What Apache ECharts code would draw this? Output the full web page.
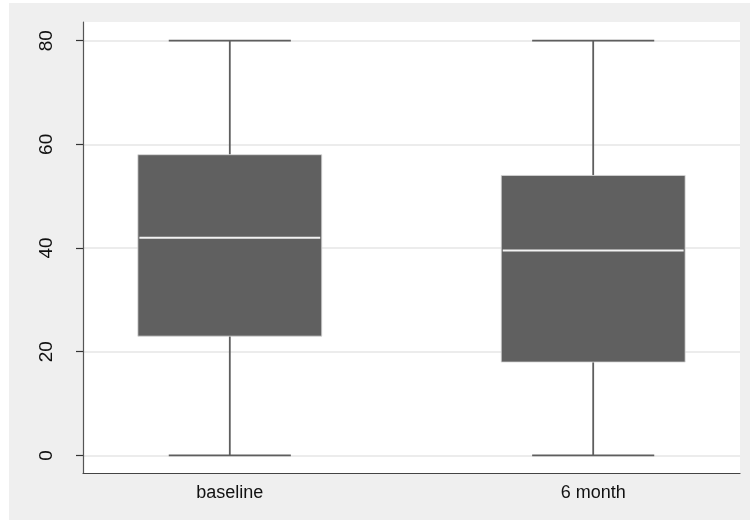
<!DOCTYPE html>
<html>
<head>
<meta charset="utf-8">
<script src="https://cdn.jsdelivr.net/npm/echarts@6/dist/echarts.min.js"></script>
<style>
  html, body { margin: 0; padding: 0; background: #ffffff; }
  #chart { width: 750px; height: 520px; }
</style>
</head>
<body>
<div id="chart"></div>
<script>
// Groups and their five-number summaries
const categories = ['baseline', '6 month'];
const whiskerLow = [0, 0];
const quartile1 = [23, 18];
const medians = [42, 39.5];
const quartile3 = [58, 54];
const whiskerHigh = [80, 80];
const yTicks = [0, 20, 40, 60, 80];

const boxData = categories.map((c, i) => [i, whiskerLow[i], quartile1[i], medians[i], quartile3[i], whiskerHigh[i]]);

const BOX_HALF = 0.253;   // half box width, in category units
const CAP_HALF = 0.168;   // half whisker-cap width

const chart = echarts.init(document.getElementById('chart'));
chart.setOption({
  animation: false,
  backgroundColor: '#ffffff',
  graphic: [{
    type: 'rect', z: -10, silent: true,
    shape: { x: 9, y: 3, width: 741, height: 517 },
    style: { fill: '#efefef' }
  }],
  grid: {
    left: 83, top: 22, right: 10, bottom: 47,
    show: true, backgroundColor: '#ffffff', borderWidth: 0
  },
  xAxis: {
    type: 'value', min: -0.404, max: 1.404,
    splitLine: { show: false },
    axisLine: { show: true, onZero: false, lineStyle: { color: '#444', width: 1.2 } },
    axisTick: { show: false },
    axisLabel: {
      customValues: [0, 1],
      formatter: v => categories[Math.round(v)] || '',
      fontFamily: 'Liberation Sans, Arial, sans-serif',
      fontSize: 18, color: '#111', margin: 11
    }
  },
  yAxis: {
    type: 'value', min: -3.4, max: 83.6,
    axisLine: { show: true, onZero: false, lineStyle: { color: '#555', width: 1.2 } },
    axisTick: { show: true, customValues: yTicks, length: 7, lineStyle: { color: '#333', width: 1.2 } },
    splitLine: { show: true, lineStyle: { color: '#e6e6e6', width: 1.5 } },
    axisLabel: {
      customValues: yTicks,
      rotate: 90,
      fontFamily: 'Liberation Sans, Arial, sans-serif',
      fontSize: 19, color: '#111', margin: 27
    }
  },
  series: [{
    type: 'custom',
    data: boxData,
    encode: { x: 0, y: [1, 2, 3, 4, 5] },
    renderItem: function (params, api) {
      const x = api.value(0);
      const pLow = api.coord([x, api.value(1)]);
      const pQ1 = api.coord([x, api.value(2)]);
      const pMed = api.coord([x, api.value(3)]);
      const pQ3 = api.coord([x, api.value(4)]);
      const pHigh = api.coord([x, api.value(5)]);
      const left = api.coord([x - BOX_HALF, 0])[0];
      const right = api.coord([x + BOX_HALF, 0])[0];
      const capL = api.coord([x - CAP_HALF, 0])[0];
      const capR = api.coord([x + CAP_HALF, 0])[0];
      const whisk = { stroke: '#5e5e5e', lineWidth: 1.8 };
      return {
        type: 'group',
        children: [
          { type: 'line', shape: { x1: pLow[0], y1: pLow[1], x2: pQ1[0], y2: pQ1[1] }, style: whisk },
          { type: 'line', shape: { x1: pQ3[0], y1: pQ3[1], x2: pHigh[0], y2: pHigh[1] }, style: whisk },
          { type: 'line', shape: { x1: capL, y1: pLow[1], x2: capR, y2: pLow[1] }, style: whisk },
          { type: 'line', shape: { x1: capL, y1: pHigh[1], x2: capR, y2: pHigh[1] }, style: whisk },
          {
            type: 'rect',
            shape: { x: left, y: pQ3[1], width: right - left, height: pQ1[1] - pQ3[1] },
            style: { fill: '#606060', stroke: '#d8d8d8', lineWidth: 0.8 }
          },
          { type: 'line', shape: { x1: left + 1.5, y1: pMed[1], x2: right - 1.5, y2: pMed[1] },
            style: { stroke: '#f2f2f2', lineWidth: 2 } }
        ]
      };
    }
  }]
});
</script>
</body>
</html>
